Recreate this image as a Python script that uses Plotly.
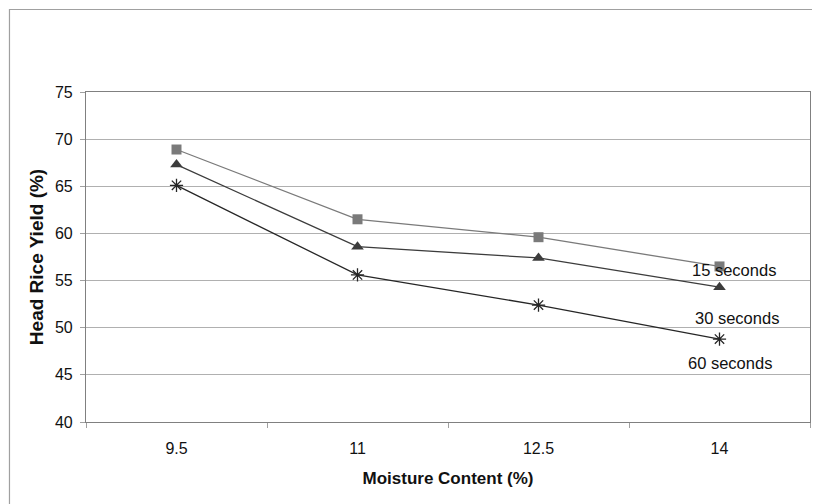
import plotly.graph_objects as go

moisture = ["9.5", "11", "12.5", "14"]
yield_15s = [68.9, 61.5, 59.6, 56.5]
yield_30s = [67.3, 58.6, 57.4, 54.3]
yield_60s = [65.1, 55.6, 52.4, 48.8]
series_names = ["15 seconds", "30 seconds", "60 seconds"]

FONT = "Liberation Sans, Arial, sans-serif"

fig = go.Figure()
fig.add_trace(go.Scatter(x=moisture, y=yield_15s, mode="lines+markers", name=series_names[0],
                         line=dict(color="#7a7a7a", width=1.3),
                         marker=dict(symbol="square", size=10, color="#7a7a7a")))
fig.add_trace(go.Scatter(x=moisture, y=yield_30s, mode="lines+markers", name=series_names[1],
                         line=dict(color="#3c3c3c", width=1.3),
                         marker=dict(symbol="triangle-up", size=11, color="#3c3c3c")))
fig.add_trace(go.Scatter(x=moisture, y=yield_60s, mode="lines+markers", name=series_names[2],
                         line=dict(color="#262626", width=1.3),
                         marker=dict(symbol="asterisk-open", size=11, color="#262626",
                                     line=dict(color="#262626", width=1.3))))

# series labels near last points (category index of last moisture value)
last_idx = len(moisture) - 1
label_offsets = [(14, -4), (17, -31), (10, -24)]
for name, ys, (dx, dy) in zip(series_names, [yield_15s, yield_30s, yield_60s], label_offsets):
    fig.add_annotation(x=last_idx, y=ys[-1], xref="x", yref="y", text=name,
                       showarrow=False, xshift=dx, yshift=dy,
                       font=dict(family=FONT, size=16.5, color="#111"))

# outer chart border (top, left, right)
fig.add_shape(type="rect", xref="paper", yref="paper",
              x0=-0.1057, x1=1.0113, y0=-0.3, y1=1.25,
              line=dict(color="#a0a0a0", width=1.2), fillcolor="rgba(0,0,0,0)", layer="below")

fig.update_layout(
    width=812, height=496,
    margin=dict(l=78, r=10, t=84, b=82),
    paper_bgcolor="white", plot_bgcolor="white",
    showlegend=False,
    font=dict(family=FONT, size=16, color="#111"),
    xaxis=dict(
        type="category", range=[-0.5, 3.5],
        showgrid=False, showline=True, linecolor="#808080", linewidth=1.2, mirror=True,
        ticks="outside", tickson="boundaries", ticklen=5, tickcolor="#a0a0a0",
        ticklabelstandoff=12,
        tickfont=dict(family=FONT, size=16),
        title=dict(text="<b>Moisture Content (%)</b>", font=dict(family=FONT, size=17), standoff=15),
        zeroline=False,
    ),
    yaxis=dict(
        range=[40, 75], dtick=5, tick0=40,
        showgrid=True, gridcolor="#b0b0b0", gridwidth=1,
        showline=True, linecolor="#808080", linewidth=1.2, mirror=True,
        ticks="outside", ticklen=5, tickcolor="#a0a0a0",
        ticklabelstandoff=4,
        tickfont=dict(family=FONT, size=16),
        title=dict(text="<b>Head Rice Yield (%)</b>", font=dict(family=FONT, size=19), standoff=6),
        zeroline=False,
    ),
)

fig.write_html("out.html")
